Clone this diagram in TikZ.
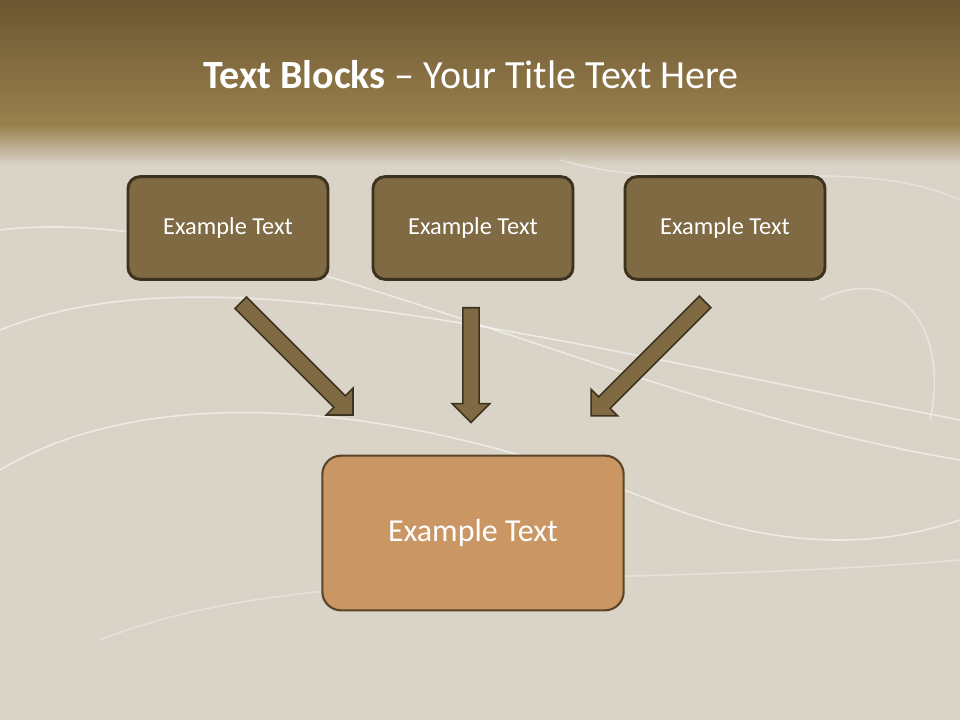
\documentclass[tikz,border=0pt]{standalone}
\usepackage{fontspec}
\setmainfont{Carlito}
\usetikzlibrary{shapes.arrows}
\definecolor{boxfill}{HTML}{7F6A43}
\definecolor{boxline}{HTML}{3D321E}
\definecolor{mainfill}{HTML}{C99664}
\definecolor{mainline}{HTML}{5A4527}
\definecolor{topdark}{HTML}{6B5631}
\definecolor{topmid}{HTML}{9A814E}
\definecolor{bg}{HTML}{D9D3C8}
\tikzset{
  smallbox/.style={draw=boxline,line width=2.2pt,fill=boxfill,rounded corners=9pt,minimum width=150pt,minimum height=77pt,text=white,font=\fontsize{18.3}{22}\selectfont},
  bigbox/.style={draw=mainline,line width=1.6pt,fill=mainfill,rounded corners=14pt,minimum width=226pt,minimum height=116pt,text=white,font=\fontsize{24}{29}\selectfont},
  blockarrow/.style={single arrow,draw=boxline,line width=1.2pt,fill=boxfill,minimum width=28pt,single arrow head extend=8pt,single arrow head indent=0pt,inner sep=5.5pt},
  swirl/.style={white,opacity=0.55,line width=1.2pt}
}
\begin{document}
\begin{tikzpicture}[x=0.75pt,y=-0.75pt]
\useasboundingbox (0,0) rectangle (960,720);
\fill[bg] (0,0) rectangle (960,720);
\shade[top color=topdark,bottom color=topmid] (0,0) rectangle (960,125);
\shade[top color=topmid,bottom color=bg] (0,125) rectangle (960,165);
\begin{scope}
\draw[swirl] (0,330) .. controls (200,250) and (500,330) .. (960,420);
\draw[swirl] (0,470) .. controls (150,380) and (400,400) .. (650,500) .. controls (800,560) and (900,540) .. (960,520);
\draw[swirl] (0,230) .. controls (250,200) and (600,400) .. (960,460);
\draw[swirl,opacity=0.35] (100,640) .. controls (300,560) and (600,590) .. (960,560);
\draw[swirl,opacity=0.35] (560,160) .. controls (700,200) and (850,150) .. (960,200);
\draw[swirl,opacity=0.4] (820,300) .. controls (900,260) and (950,330) .. (930,420);
\end{scope}
\node[text=white,font=\fontsize{30}{36}\selectfont] (title) at (471,75) {\textbf{Text Blocks} – Your Title Text Here};
\node[smallbox] (b1) at (228,228) {Example Text};
\node[smallbox] (b2) at (473,228) {Example Text};
\node[smallbox] (b3) at (725,228) {Example Text};
\node[bigbox] (main) at (473,533) {Example Text};
\node[blockarrow,minimum height=119pt,rotate=-45] (a1) at (294,356) {};
\node[blockarrow,minimum height=86pt,rotate=-90] (a2) at (471,361) {};
\node[blockarrow,minimum height=121pt,rotate=-135] (a3) at (651,356) {};
\end{tikzpicture}
\end{document}
